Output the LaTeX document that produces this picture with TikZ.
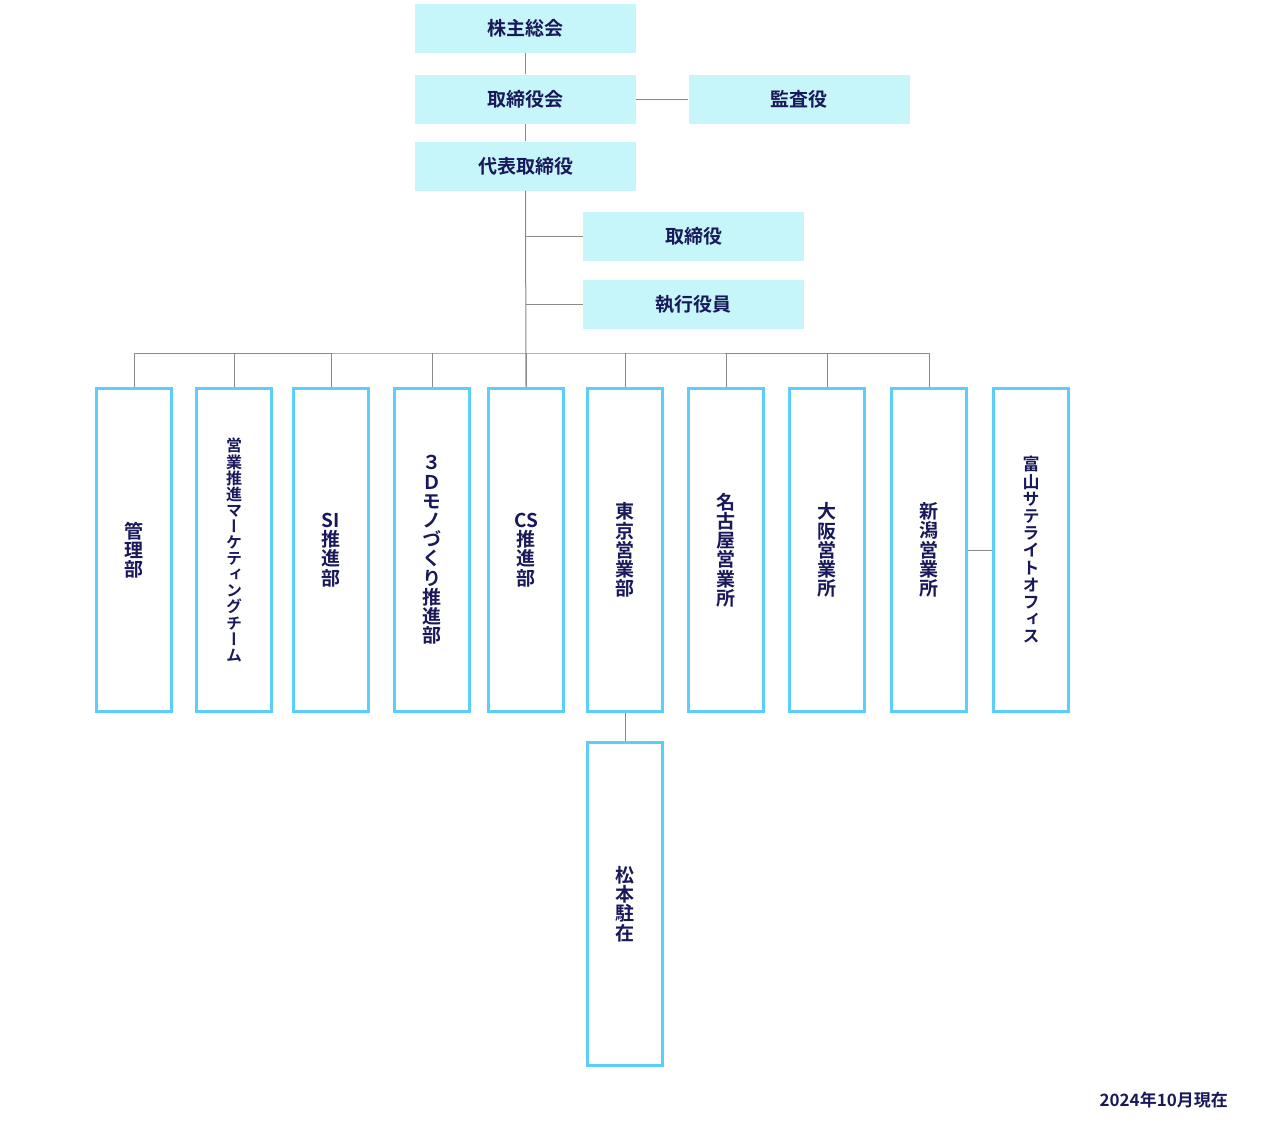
\documentclass[tikz,border=0pt]{standalone}
\usepackage{fontspec}
\newfontfamily\jp{Noto Sans CJK JP Bold}
\newfontfamily\jpv{Noto Sans CJK JP Bold}[RawFeature=+vert]
\definecolor{ink}{HTML}{18185A}
\definecolor{postfill}{HTML}{C6F6FA}
\definecolor{deptline}{HTML}{5CCEFA}
\definecolor{linkgray}{HTML}{8A8A8A}
\tikzset{
  post/.style={fill=postfill, minimum width=221pt, minimum height=49pt, inner sep=0pt,
    font=\jp\fontsize{19}{19}\selectfont, text=ink},
  dept/.style={draw=deptline, line width=3pt, minimum width=75pt, minimum height=323pt,
    inner sep=0pt, align=center, text=ink},
  link/.style={draw=linkgray, line width=1pt}
}
\begin{document}
\begin{tikzpicture}[x=1pt,y=-1pt]
  \useasboundingbox (0,0) rectangle (1280,1128);
  % top posts
  \node[post] (sh) at (525.5,28) {株主総会};
  \node[post] (bd) at (525.5,99) {取締役会};
  \node[post] (aud) at (799,99) {監査役};
  \node[post] (ceo) at (525.5,166) {代表取締役};
  \node[post] (dir) at (693.5,236.5) {取締役};
  \node[post] (exe) at (693.5,304) {執行役員};

  % departments
  \foreach \x/\s/\b/\t [count=\i] in {134/19/19.2/{管\\理\\部},
      234/16/16.1/{営\\業\\推\\進\\マ\\ー\\ケ\\テ\\ィ\\ン\\グ\\チ\\ー\\ム},
      331/19/19.2/{SI\\推\\進\\部},
      432/19/19.2/{３\\Ｄ\\モ\\ノ\\づ\\く\\り\\推\\進\\部},
      526/19/19.2/{CS\\推\\進\\部},
      625/19/19.2/{東\\京\\営\\業\\部},
      726/19/19.2/{名\\古\\屋\\営\\業\\所},
      827/19/19.2/{大\\阪\\営\\業\\所},
      929/19/19.2/{新\\潟\\営\\業\\所},
      1031/17/17.2/{富\\山\\サ\\テ\\ラ\\イ\\ト\\オ\\フ\\ィ\\ス}} {
    \node[dept, font=\jpv\fontsize{\s}{\b}\selectfont] (d\i) at (\x,550) {\t};
  }
  \node[dept, font=\jpv\fontsize{19}{19.2}\selectfont] (mat) at (625,904) {松\\本\\駐\\在};

  % connectors
  \draw[link] (sh.south) -- (bd.north);
  \draw[link] (bd.east) -- (aud.west);
  \draw[link] (bd.south) -- (ceo.north);
  \draw[link] (ceo.south) -- (d5.north);
  \draw[link] (ceo.south |- dir.west) -- (dir.west);
  \draw[link] (ceo.south |- exe.west) -- (exe.west);
  \coordinate (bus) at (526,353);
  \draw[link] (d1.north) |- (bus) -| (d9.north);
  \foreach \i in {2,...,8}
    \draw[link] (d\i.north) -- (d\i.north |- bus);
  \draw[link] (d9.east) -- (d10.west);
  \draw[link] (d6.south) -- (mat.north);

  \node[anchor=east, inner sep=0pt, font=\jp\fontsize{17}{17}\selectfont, text=ink] (date) at (1228,1100) {2024年10月現在};
\end{tikzpicture}
\end{document}
